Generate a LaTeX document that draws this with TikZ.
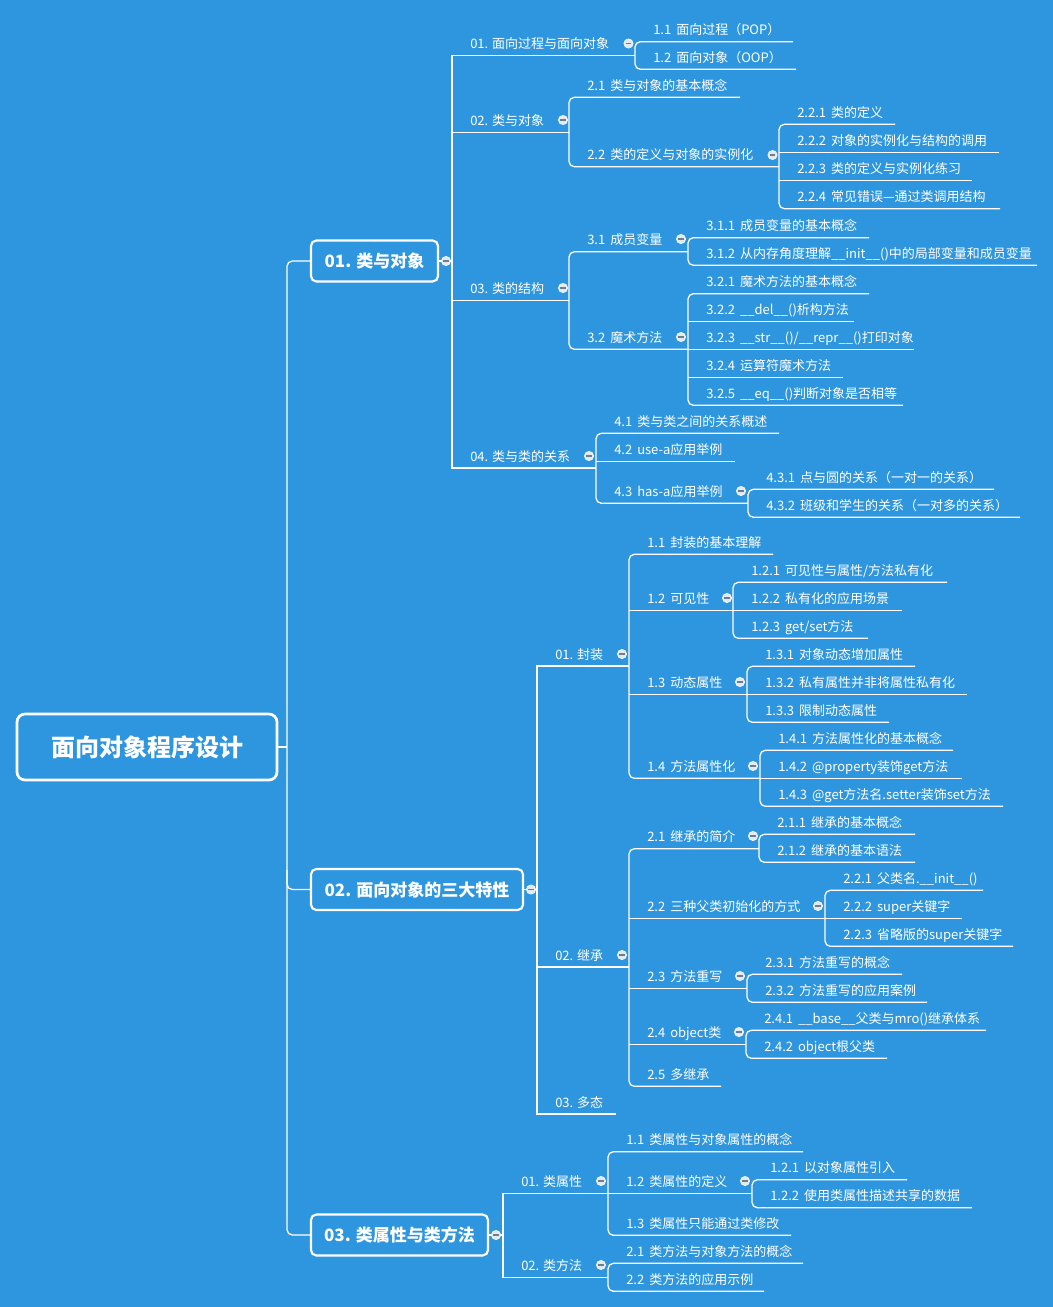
\documentclass[tikz,border=0pt]{standalone}
\usepackage{fontspec}
\setmainfont{Noto Sans CJK SC}
\newfontfamily\widef[WordSpace=1.7]{Noto Sans CJK SC}
\definecolor{bg}{RGB}{46,150,222}
\definecolor{mkfill}{RGB}{226,233,240}
\definecolor{mkbar}{RGB}{110,126,142}
\tikzset{
  ln/.style={draw=white, line width=0.95pt},
  lbl/.style={anchor=base west, inner sep=0pt, text=white, font=\widef\fontsize{9.75}{11}\selectfont},
  lbltop/.style={lbl, font=\normalfont\fontsize{9.75}{11}\selectfont},
  mainbox/.style={draw=white, line width=1.6pt, rounded corners=4pt, fill=bg, text=white,
    font=\bfseries\fontsize{12.75}{14}\selectfont, inner sep=0pt, minimum height=41*0.75pt},
  rootbox/.style={mainbox, line width=2pt, rounded corners=6pt,
    font=\bfseries\fontsize{18}{20}\selectfont, minimum height=66*0.75pt},
}
\newcommand\mmnode[5]{%
  \node[lbl] (#1) at ({#2+18},{#4-7}) {#5};
  \coordinate (#1-s) at (#2,#4);
  \coordinate (#1-e) at (#3,#4);}
\newcommand\mmtop[5]{%
  \node[lbltop] (#1) at ({#2+18},{#4-7}) {#5};
  \coordinate (#1-s) at (#2,#4);
  \coordinate (#1-e) at (#3,#4);}
\newcommand\mmmark[2]{%
  \filldraw[fill=mkfill, draw=white, line width=0.4pt] (#1,#2) circle[radius=3.5pt];
  \draw[mkbar, line width=1pt] ({#1-2.8},#2) -- ({#1+2.8},#2);}
\newcommand\mmbr[2]{\draw[ln, rounded corners=4pt] (#1-e) -- (#1-s) -- (#2-s) -- (#2-e);}
\newcommand\mmbrs[2]{\draw[ln] (#1-e) -- (#1-s) -- (#2-s) -- (#2-e);}
\newcommand\mmul[1]{\draw[ln] (#1-s) -- (#1-e);}
\begin{document}
\begin{tikzpicture}[x=0.75pt,y=-0.75pt]
\fill[bg] (0,0) rectangle (1053,1307);
\useasboundingbox (0,0) rectangle (1053,1307);

% root and main topics
\node[rootbox, minimum width=260*0.75pt] (root) at (147,747) {面向对象程序设计};
\node[mainbox, minimum width=127*0.75pt] (m1) at (374.5,261) {01. 类与对象};
\node[mainbox, minimum width=212*0.75pt] (m2) at (417,889.5) {02. 面向对象的三大特性};
\node[mainbox, minimum width=177*0.75pt] (m3) at (399.5,1235) {03. 类属性与类方法};
\coordinate (rj) at (287,747);
\draw[ln] (root.east) -- (rj);
\draw[ln, rounded corners=4pt] (m1.west) -- (287,261) -- (287,1235) -- (m3.west);
\draw[ln, rounded corners=4pt] (287,870) -- (287,889.5) -- (m2.west);

% ===== branch 1
\mmtop{a1}{452}{635}{55.7}{01. 面向过程与面向对象}
\mmnode{a1c1}{635}{793}{41.7}{1.1 面向过程（POP）}
\mmnode{a1c2}{635}{796}{69.3}{1.2 面向对象（OOP）}
\mmtop{a2}{452}{569}{132.3}{02. 类与对象}
\mmnode{a2c1}{569}{740}{97.3}{2.1 类与对象的基本概念}
\mmnode{a2c2}{569}{779}{166.7}{2.2 类的定义与对象的实例化}
\mmnode{a2c2d1}{779}{895}{124.3}{2.2.1 类的定义}
\mmnode{a2c2d2}{779}{999}{152.7}{2.2.2 对象的实例化与结构的调用}
\mmnode{a2c2d3}{779}{972}{180.7}{2.2.3 类的定义与实例化练习}
\mmnode{a2c2d4}{779}{1000}{208.7}{2.2.4 常见错误—通过类调用结构}
\mmtop{a3}{452}{569}{300.3}{03. 类的结构}
\mmnode{a3c1}{569}{688}{251.7}{3.1 成员变量}
\mmnode{a3c1d1}{688}{869}{237.7}{3.1.1 成员变量的基本概念}
\mmnode{a3c1d2}{688}{1037}{265.3}{3.1.2 从内存角度理解\_\_init\_\_()中的局部变量和成员变量}
\mmnode{a3c2}{569}{688}{349.3}{3.2 魔术方法}
\mmnode{a3c2d1}{688}{869}{293.7}{3.2.1 魔术方法的基本概念}
\mmnode{a3c2d2}{688}{854}{321.3}{3.2.2 \_\_del\_\_()析构方法}
\mmnode{a3c2d3}{688}{914}{349.3}{3.2.3 \_\_str\_\_()/\_\_repr\_\_()打印对象}
\mmnode{a3c2d4}{688}{843}{377.3}{3.2.4 运算符魔术方法}
\mmnode{a3c2d5}{688}{903}{405.3}{3.2.5 \_\_eq\_\_()判断对象是否相等}
\mmtop{a4}{452}{596}{468}{04. 类与类的关系}
\mmnode{a4c1}{596}{779}{433.3}{4.1 类与类之间的关系概述}
\mmnode{a4c2}{596}{735}{461.3}{4.2 use-a应用举例}
\mmnode{a4c3}{596}{748}{503.3}{4.3 has-a应用举例}
\mmnode{a4c3d1}{748}{994}{489.3}{4.3.1 点与圆的关系（一对一的关系）}
\mmnode{a4c3d2}{748}{1020}{517.3}{4.3.2 班级和学生的关系（一对多的关系）}
\draw[ln] (m1.east) -- (452,261);
\mmbrs{a1}{a4} \mmul{a2} \mmul{a3}
\mmbr{a1c1}{a1c2}
\mmbr{a2c1}{a2c2}
\mmbr{a2c2d1}{a2c2d4} \mmul{a2c2d2} \mmul{a2c2d3}
\mmbr{a3c1}{a3c2}
\mmbr{a3c1d1}{a3c1d2}
\mmbr{a3c2d1}{a3c2d5} \mmul{a3c2d2} \mmul{a3c2d3} \mmul{a3c2d4}
\mmbr{a4c1}{a4c3} \mmul{a4c2}
\mmbr{a4c3d1}{a4c3d2}
\mmmark{446}{261}
\mmmark{628.5}{43.5}
\mmmark{563}{120}
\mmmark{772.5}{155}
\mmmark{563}{288}
\mmmark{681}{239}
\mmmark{681}{337}
\mmmark{589}{456}
\mmmark{741}{491}

% ===== branch 2
\mmtop{b1}{537}{629}{666}{01. 封装}
\mmnode{b1c1}{629}{773}{554.3}{1.1 封装的基本理解}
\mmnode{b1c2}{629}{733}{610.3}{1.2 可见性}
\mmnode{b1c2d1}{733}{947}{582.3}{1.2.1 可见性与属性/方法私有化}
\mmnode{b1c2d2}{733}{902}{610.3}{1.2.2 私有化的应用场景}
\mmnode{b1c2d3}{733}{868}{638.3}{1.2.3 get/set方法}
\mmnode{b1c3}{629}{747}{694.3}{1.3 动态属性}
\mmnode{b1c3d1}{747}{915}{666.3}{1.3.1 对象动态增加属性}
\mmnode{b1c3d2}{747}{967}{694.3}{1.3.2 私有属性并非将属性私有化}
\mmnode{b1c3d3}{747}{889}{722.3}{1.3.3 限制动态属性}
\mmnode{b1c4}{629}{760}{778.3}{1.4 方法属性化}
\mmnode{b1c4d1}{760}{953}{750.3}{1.4.1 方法属性化的基本概念}
\mmnode{b1c4d2}{760}{962}{778.3}{1.4.2 @property装饰get方法}
\mmnode{b1c4d3}{760}{1003}{806.3}{1.4.3 @get方法名.setter装饰set方法}
\mmtop{b2}{537}{629}{967}{02. 继承}
\mmnode{b2c1}{629}{759}{848.7}{2.1 继承的简介}
\mmnode{b2c1d1}{759}{915}{834.3}{2.1.1 继承的基本概念}
\mmnode{b2c1d2}{759}{915}{862.3}{2.1.2 继承的基本语法}
\mmnode{b2c2}{629}{825}{918.3}{2.2 三种父类初始化的方式}
\mmnode{b2c2d1}{825}{983}{890.3}{2.2.1 父类名.\_\_init\_\_()}
\mmnode{b2c2d2}{825}{962}{918.3}{2.2.2 super关键字}
\mmnode{b2c2d3}{825}{1013}{946.3}{2.2.3 省略版的super关键字}
\mmnode{b2c3}{629}{747}{988.3}{2.3 方法重写}
\mmnode{b2c3d1}{747}{902}{974.3}{2.3.1 方法重写的概念}
\mmnode{b2c3d2}{747}{927}{1002.3}{2.3.2 方法重写的应用案例}
\mmnode{b2c4}{629}{746}{1044.3}{2.4 object类}
\mmnode{b2c4d1}{746}{986}{1030.3}{2.4.1 \_\_base\_\_父类与mro()继承体系}
\mmnode{b2c4d2}{746}{887}{1058.3}{2.4.2 object根父类}
\mmnode{b2c5}{629}{721}{1086.3}{2.5 多继承}
\mmtop{b3}{537}{616}{1114}{03. 多态}
\draw[ln] (m2.east) -- (537,889.5);
\mmbrs{b1}{b3} \mmul{b2}
\mmbr{b1c1}{b1c4} \mmul{b1c2} \mmul{b1c3}
\mmbr{b1c2d1}{b1c2d3} \mmul{b1c2d2}
\mmbr{b1c3d1}{b1c3d3} \mmul{b1c3d2}
\mmbr{b1c4d1}{b1c4d3} \mmul{b1c4d2}
\mmbr{b2c1}{b2c5} \mmul{b2c2} \mmul{b2c3} \mmul{b2c4}
\mmbr{b2c1d1}{b2c1d2}
\mmbr{b2c2d1}{b2c2d3} \mmul{b2c2d2}
\mmbr{b2c3d1}{b2c3d2}
\mmbr{b2c4d1}{b2c4d2}
\mmmark{531}{889.5}
\mmmark{622}{654}
\mmmark{727}{598}
\mmmark{740}{682}
\mmmark{753}{766}
\mmmark{622}{955}
\mmmark{753}{836}
\mmmark{818}{906}
\mmmark{740}{976}
\mmmark{739}{1032}

% ===== branch 3
\mmtop{c1}{503}{608}{1193.3}{01. 类属性}
\mmnode{c1c1}{608}{803}{1151.7}{1.1 类属性与对象属性的概念}
\mmnode{c1c2}{608}{752}{1193.3}{1.2 类属性的定义}
\mmnode{c1c2d1}{752}{907}{1179.7}{1.2.1 以对象属性引入}
\mmnode{c1c2d2}{752}{972}{1207.7}{1.2.2 使用类属性描述共享的数据}
\mmnode{c1c3}{608}{791}{1235.3}{1.3 类属性只能通过类修改}
\mmtop{c2}{503}{608}{1277.3}{02. 类方法}
\mmnode{c2c1}{608}{803}{1263.3}{2.1 类方法与对象方法的概念}
\mmnode{c2c2}{608}{764}{1291.3}{2.2 类方法的应用示例}
\draw[ln] (m3.east) -- (503,1235);
\mmbrs{c1}{c2}
\mmbr{c1c1}{c1c3} \mmul{c1c2}
\mmbr{c1c2d1}{c1c2d2}
\mmbr{c2c1}{c2c2}
\mmmark{496}{1235}
\mmmark{601}{1181}
\mmmark{745}{1181}
\mmmark{601}{1265}
\end{tikzpicture}
\end{document}
